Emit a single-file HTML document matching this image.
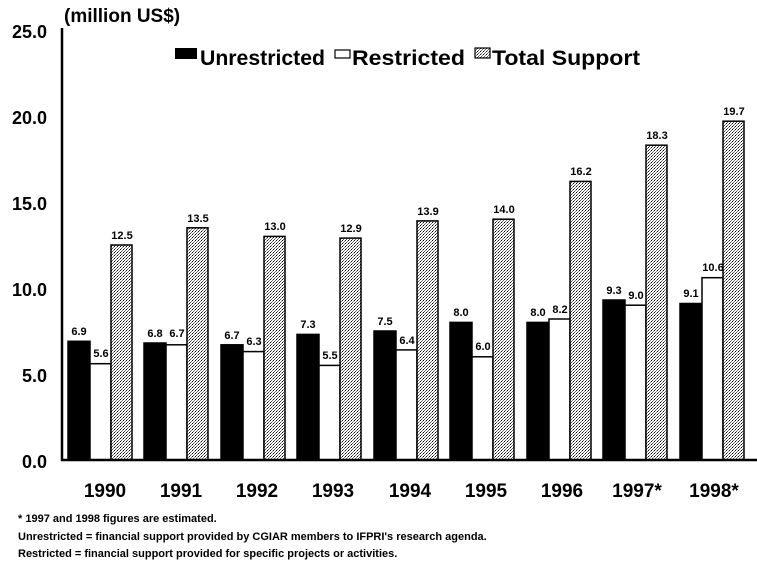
<!DOCTYPE html>
<html><head><style>body{margin:0;background:#fff}svg{display:block}</style></head><body>
<svg width="757" height="563" xmlns="http://www.w3.org/2000/svg" font-family="Liberation Sans, Arial, sans-serif">
<defs>
<pattern id="d" width="3" height="3" patternUnits="userSpaceOnUse">
<rect width="3" height="3" fill="#fff"/><rect x="0" y="0" width="1" height="1" fill="#000"/><rect x="2" y="1" width="1" height="1" fill="#777"/><rect x="1" y="2" width="1" height="1" fill="#555"/>
</pattern>
</defs>
<text x="64" y="22" font-size="19" font-weight="bold">(million US$)</text>
<g font-size="18" font-weight="bold" text-anchor="end">
<text x="47" y="38">25.0</text><text x="47" y="124">20.0</text><text x="47" y="210">15.0</text>
<text x="47" y="296">10.0</text><text x="47" y="382">5.0</text><text x="47" y="468">0.0</text>
</g>
<g stroke="#000" stroke-width="1.5">
<rect x="68" y="341.3" width="22" height="118.7" fill="#000"/><rect x="90" y="363.7" width="21" height="96.3" fill="#fff"/><rect x="111" y="245" width="21" height="215" fill="url(#d)"/>
<rect x="144" y="343" width="22" height="117" fill="#000"/><rect x="166" y="344.8" width="21" height="115.2" fill="#fff"/><rect x="187" y="227.8" width="21" height="232.2" fill="url(#d)"/>
<rect x="221" y="344.8" width="22" height="115.2" fill="#000"/><rect x="243" y="351.6" width="21" height="108.4" fill="#fff"/><rect x="264" y="236.4" width="21" height="223.6" fill="url(#d)"/>
<rect x="297" y="334.4" width="22" height="125.6" fill="#000"/><rect x="319" y="365.4" width="21" height="94.6" fill="#fff"/><rect x="340" y="238.1" width="21" height="221.9" fill="url(#d)"/>
<rect x="374" y="331" width="22" height="129" fill="#000"/><rect x="396" y="349.9" width="21" height="110.1" fill="#fff"/><rect x="417" y="220.9" width="21" height="239.1" fill="url(#d)"/>
<rect x="450" y="322.4" width="22" height="137.6" fill="#000"/><rect x="472" y="356.8" width="21" height="103.2" fill="#fff"/><rect x="493" y="219.2" width="21" height="240.8" fill="url(#d)"/>
<rect x="527" y="322.4" width="22" height="137.6" fill="#000"/><rect x="549" y="319" width="21" height="141" fill="#fff"/><rect x="570" y="181.4" width="21" height="278.6" fill="url(#d)"/>
<rect x="603" y="300" width="22" height="160" fill="#000"/><rect x="625" y="305.2" width="21" height="154.8" fill="#fff"/><rect x="646" y="145.2" width="21" height="314.8" fill="url(#d)"/>
<rect x="680" y="303.5" width="22" height="156.5" fill="#000"/><rect x="702" y="277.7" width="21" height="182.3" fill="#fff"/><rect x="723" y="121.2" width="21" height="338.8" fill="url(#d)"/>
</g>
<g font-size="11" font-weight="bold" text-anchor="middle">
<text x="79" y="335">6.9</text><text x="101" y="357">5.6</text><text x="122" y="239">12.5</text>
<text x="155" y="337">6.8</text><text x="177" y="337">6.7</text><text x="198" y="222">13.5</text>
<text x="232" y="339">6.7</text><text x="254" y="345">6.3</text><text x="275" y="230">13.0</text>
<text x="308" y="328">7.3</text><text x="330" y="359">5.5</text><text x="351" y="232">12.9</text>
<text x="385" y="325">7.5</text><text x="407" y="344">6.4</text><text x="428" y="215">13.9</text>
<text x="461" y="316">8.0</text><text x="483" y="350">6.0</text><text x="504" y="213">14.0</text>
<text x="538" y="316">8.0</text><text x="560" y="313">8.2</text><text x="581" y="175">16.2</text>
<text x="614" y="294">9.3</text><text x="636" y="299">9.0</text><text x="657" y="139">18.3</text>
<text x="691" y="297">9.1</text><text x="713" y="271">10.6</text><text x="734" y="115">19.7</text>
</g>
<g font-size="19" font-weight="bold" text-anchor="middle">
<text x="105" y="497">1990</text><text x="181" y="497">1991</text><text x="257" y="497">1992</text>
<text x="333" y="497">1993</text><text x="410" y="497">1994</text><text x="486" y="497">1995</text>
<text x="562" y="497">1996</text><text x="637" y="497">1997*</text><text x="714" y="497">1998*</text>
</g>
<line x1="62" y1="28" x2="62" y2="461" stroke="#000" stroke-width="2.5"/>
<line x1="61" y1="460" x2="757" y2="460" stroke="#000" stroke-width="2.5"/>
<rect x="175" y="48" width="22" height="11" fill="#000"/>
<text x="200" y="65" font-size="21" font-weight="bold" textLength="125" lengthAdjust="spacingAndGlyphs">Unrestricted</text>
<rect x="335" y="50" width="15" height="8" fill="#fff" stroke="#000" stroke-width="1.2"/>
<text x="352" y="65" font-size="21" font-weight="bold" textLength="113" lengthAdjust="spacingAndGlyphs">Restricted</text>
<rect x="475" y="48" width="15" height="10" fill="url(#d)" stroke="#000" stroke-width="1.2"/>
<text x="492" y="65" font-size="21" font-weight="bold" textLength="148" lengthAdjust="spacingAndGlyphs">Total Support</text>
<g font-size="11" font-weight="bold">
<text x="18" y="522">* 1997 and 1998 figures are estimated.</text>
<text x="18" y="540">Unrestricted = financial support provided by CGIAR members to IFPRI's research agenda.</text>
<text x="18" y="557">Restricted = financial support provided for specific projects or activities.</text>
</g>
</svg>
</body></html>
